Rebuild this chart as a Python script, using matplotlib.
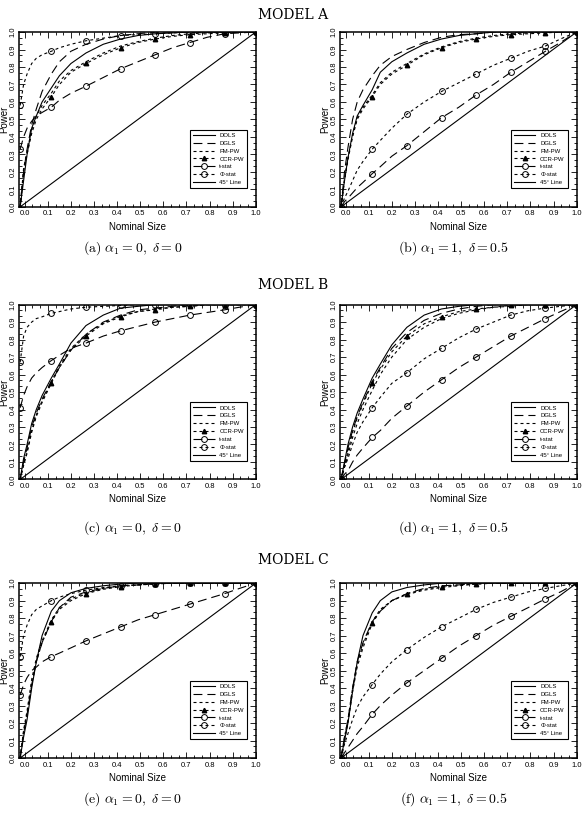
import matplotlib.pyplot as plt
from matplotlib.ticker import MultipleLocator, AutoMinorLocator
from matplotlib.legend_handler import HandlerLine2D

plt.rcParams['mathtext.fontset'] = 'cm'
plt.rcParams['font.family'] = ['Liberation Sans', 'DejaVu Sans']

# nominal size grid (x) shared by every curve
nominal_size = [-0.02, -0.005, 0.01, 0.03, 0.05, 0.075, 0.115, 0.15, 0.2, 0.265,
                0.34, 0.415, 0.49, 0.565, 0.64, 0.715, 0.79, 0.865, 0.93, 1.0]
methods = ["DOLS", "DGLS", "FM-PW", "CCR-PW", "t-stat", "\u03a6-stat"]
models = ["MODEL A", "MODEL B", "MODEL C"]
captions = [r"$\mathrm{(a)}\ \alpha_1 = 0,\ \delta = 0$",
            r"$\mathrm{(b)}\ \alpha_1 = 1,\ \delta = 0.5$",
            r"$\mathrm{(c)}\ \alpha_1 = 0,\ \delta = 0$",
            r"$\mathrm{(d)}\ \alpha_1 = 1,\ \delta = 0.5$",
            r"$\mathrm{(e)}\ \alpha_1 = 0,\ \delta = 0$",
            r"$\mathrm{(f)}\ \alpha_1 = 1,\ \delta = 0.5$"]

# (a) model A, alpha1 = 0, delta = 0
dols_a = [0, .15, .30, .45, .52, .60, .68, .75, .82, .88, .93, .96, .98, .99, .995, 1, 1, 1, 1, 1]
dgls_a = [0, .20, .33, .47, .56, .66, .76, .83, .89, .93, .96, .98, .99, 1, 1, 1, 1, 1, 1, 1]
fmpw_a = [0, .22, .32, .44, .52, .58, .65, .72, .78, .83, .88, .92, .945, .965, .98, .99, .995, 1, 1, 1]
ccr_a = [0, .20, .30, .42, .50, .56, .63, .70, .77, .82, .87, .91, .94, .96, .975, .985, .99, .995, 1, 1]
tstat_a = [.33, .40, .45, .49, .52, .54, .57, .61, .65, .69, .74, .79, .83, .87, .91, .94, .97, .99, .995, 1]
phi_a = [.58, .70, .76, .82, .85, .87, .89, .91, .93, .95, .965, .98, .985, .99, .995, 1, 1, 1, 1, 1]

# (b) model A, alpha1 = 1, delta = 0.5
dols_b = [0, .15, .28, .42, .52, .58, .67, .77, .83, .88, .93, .96, .98, .99, 1, 1, 1, 1, 1, 1]
dgls_b = [0, .20, .34, .50, .60, .67, .75, .81, .86, .90, .94, .97, .985, .99, 1, 1, 1, 1, 1, 1]
fmpw_b = [0, .16, .28, .41, .51, .57, .64, .71, .77, .82, .875, .915, .945, .965, .98, .99, .995, 1, 1, 1]
ccr_b = [0, .15, .27, .40, .50, .56, .63, .70, .76, .81, .87, .91, .94, .96, .975, .985, .99, .995, 1, 1]
tstat_b = [0, .03, .05, .08, .11, .14, .19, .23, .29, .35, .43, .51, .57, .64, .70, .77, .83, .89, .94, 1]
phi_b = [0, .05, .09, .15, .21, .26, .33, .38, .45, .53, .60, .66, .71, .76, .81, .85, .89, .92, .96, 1]

# (c) model B, alpha1 = 0, delta = 0
dols_c = [0, .12, .20, .32, .40, .48, .58, .66, .78, .88, .94, .98, .99, 1, 1, 1, 1, 1, 1, 1]
dgls_c = [0, .10, .18, .30, .38, .46, .56, .64, .74, .83, .90, .94, .97, .98, .99, 1, 1, 1, 1, 1]
fmpw_c = [0, .09, .16, .28, .37, .45, .56, .65, .75, .83, .895, .935, .96, .975, .985, .99, 1, 1, 1, 1]
ccr_c = [0, .08, .15, .27, .36, .44, .55, .64, .74, .82, .89, .93, .96, .97, .985, .99, 1, 1, 1, 1]
tstat_c = [.41, .48, .53, .58, .61, .64, .68, .71, .75, .78, .82, .85, .875, .90, .92, .94, .955, .97, .985, 1]
phi_c = [.67, .82, .87, .90, .92, .93, .95, .96, .975, .985, .99, .995, 1, 1, 1, 1, 1, 1, 1, 1]

# (d) model B, alpha1 = 1, delta = 0.5
dols_d = [0, .10, .20, .30, .38, .46, .58, .66, .77, .87, .94, .975, .99, 1, 1, 1, 1, 1, 1, 1]
dgls_d = [0, .09, .18, .28, .36, .44, .56, .64, .75, .84, .91, .95, .975, .99, 1, 1, 1, 1, 1, 1]
fmpw_d = [0, .07, .14, .24, .32, .40, .51, .60, .70, .80, .87, .92, .95, .97, .985, .99, 1, 1, 1, 1]
ccr_d = [0, .08, .16, .27, .35, .43, .55, .63, .73, .82, .89, .93, .96, .975, .985, .995, 1, 1, 1, 1]
tstat_d = [0, .03, .05, .10, .14, .18, .24, .28, .35, .42, .50, .57, .64, .70, .76, .82, .87, .92, .96, 1]
phi_d = [0, .07, .12, .20, .27, .33, .41, .47, .55, .61, .69, .75, .81, .86, .90, .94, .965, .98, .99, 1]

# (e) model C, alpha1 = 0, delta = 0
dols_e = [0, .12, .22, .40, .55, .70, .84, .90, .945, .97, .985, .995, 1, 1, 1, 1, 1, 1, 1, 1]
dgls_e = [0, .14, .25, .42, .55, .66, .78, .86, .92, .95, .97, .985, .99, 1, 1, 1, 1, 1, 1, 1]
fmpw_e = [0, .16, .27, .45, .57, .67, .79, .86, .91, .945, .97, .985, .99, 1, 1, 1, 1, 1, 1, 1]
ccr_e = [0, .15, .25, .42, .55, .66, .78, .85, .90, .94, .965, .98, .99, .995, 1, 1, 1, 1, 1, 1]
tstat_e = [.36, .42, .46, .50, .52, .55, .58, .60, .63, .67, .71, .75, .79, .82, .85, .88, .91, .94, .97, 1]
phi_e = [.58, .70, .76, .82, .85, .87, .90, .92, .94, .96, .975, .985, .99, .995, 1, 1, 1, 1, 1, 1]

# (f) model C, alpha1 = 1, delta = 0.5
dols_f = [0, .10, .20, .38, .55, .70, .83, .90, .95, .975, .99, 1, 1, 1, 1, 1, 1, 1, 1, 1]
dgls_f = [0, .12, .22, .40, .55, .66, .78, .84, .90, .94, .97, .985, .99, 1, 1, 1, 1, 1, 1, 1]
fmpw_f = [0, .12, .22, .40, .54, .65, .78, .85, .90, .935, .96, .975, .985, .995, 1, 1, 1, 1, 1, 1]
ccr_f = [0, .10, .20, .38, .52, .63, .77, .84, .90, .94, .965, .98, .99, .995, 1, 1, 1, 1, 1, 1]
tstat_f = [0, .03, .06, .10, .14, .18, .25, .30, .36, .43, .50, .57, .64, .70, .76, .81, .86, .91, .95, 1]
phi_f = [0, .08, .14, .22, .29, .35, .42, .48, .55, .62, .69, .75, .80, .85, .89, .92, .95, .97, .985, 1]

panels = [
    [dols_a, dgls_a, fmpw_a, ccr_a, tstat_a, phi_a],
    [dols_b, dgls_b, fmpw_b, ccr_b, tstat_b, phi_b],
    [dols_c, dgls_c, fmpw_c, ccr_c, tstat_c, phi_c],
    [dols_d, dgls_d, fmpw_d, ccr_d, tstat_d, phi_d],
    [dols_e, dgls_e, fmpw_e, ccr_e, tstat_e, phi_e],
    [dols_f, dgls_f, fmpw_f, ccr_f, tstat_f, phi_f],
]


class LeftMarkerHandler(HandlerLine2D):
    # legend symbol drawn at the left end of the line sample
    def get_xdata(self, legend, xdescent, ydescent, width, height, fontsize):
        xdata = [-xdescent, -xdescent + width]
        return xdata, [-xdescent + 0.08 * width]


long_dash = (0, (8, 4.5))
short_dash = (0, (2.7, 2.7))
marks = [0, 6, 9, 11, 13, 15, 17, 19]
styles = [
    dict(ls='-'),
    dict(ls=long_dash),
    dict(ls=short_dash),
    dict(ls=short_dash, marker='^', ms=3.2, mfc='black', markevery=marks),
    dict(ls=long_dash, marker='o', ms=4.2, mfc='none', mew=0.7, markevery=marks),
    dict(ls=short_dash, marker='o', ms=4.2, mfc='none', mew=0.7, markevery=marks),
]

fig = plt.figure(figsize=(5.86, 8.21), dpi=100)

ax_w, ax_h = 0.404, 0.213
lefts = [0.0324, 0.580]
bottoms = [0.748, 0.416, 0.0767]
caption_y = [0.687, 0.346, 0.016]
title_y = [0.990, 0.661, 0.326]

for i, curves in enumerate(panels):
    row, col = divmod(i, 2)
    ax = fig.add_axes([lefts[col], bottoms[row], ax_w, ax_h])
    lines = []
    for label, y, st in zip(methods, curves, styles):
        ln, = ax.plot(nominal_size, y, color='black', lw=0.8, label=label, **st)
        lines.append(ln)
    ax.plot([nominal_size[0], 1.0], [0, 1.0], color='black', lw=0.8, label="45\u00b0 Line")

    ax.set_xlim(-0.025, 1.0)
    ax.set_ylim(0, 1.0)
    ax.xaxis.set_major_locator(MultipleLocator(0.1))
    ax.yaxis.set_major_locator(MultipleLocator(0.1))
    ax.xaxis.set_minor_locator(AutoMinorLocator(3))
    ax.yaxis.set_minor_locator(AutoMinorLocator(3))
    ax.tick_params(which='both', direction='in', top=True, right=True,
                   labelsize=5.5, width=0.6)
    ax.tick_params(axis='x', pad=2.5)
    ax.tick_params(axis='y', pad=1.5)
    ax.tick_params(which='major', length=4)
    ax.tick_params(which='minor', length=2)
    for t in ax.get_yticklabels():
        t.set_rotation(90)
        t.set_va('center')
    for s in ax.spines.values():
        s.set_linewidth(1.1)
    ax.set_xlabel("Nominal Size", fontsize=7, labelpad=3)
    ax.set_ylabel("Power", fontsize=7, labelpad=0.5)

    leg = ax.legend(loc='lower right', bbox_to_anchor=(0.975, 0.09), fontsize=4.3,
                    handlelength=3.6, labelspacing=0.45, borderpad=0.5,
                    handletextpad=0.8, fancybox=False, framealpha=1,
                    handler_map={ln: LeftMarkerHandler() for ln in lines[3:]})
    leg.get_frame().set_edgecolor('black')
    leg.get_frame().set_linewidth(0.8)

    cx = lefts[col] + ax_w / 2 - 0.008
    fig.text(cx, caption_y[row], captions[i], ha='center', va='bottom', fontsize=10)

for row in range(3):
    fig.text(0.5, title_y[row], models[row], ha='center', va='top', fontsize=10,
             family='DejaVu Serif')

fig.savefig("out.png", dpi=100)
